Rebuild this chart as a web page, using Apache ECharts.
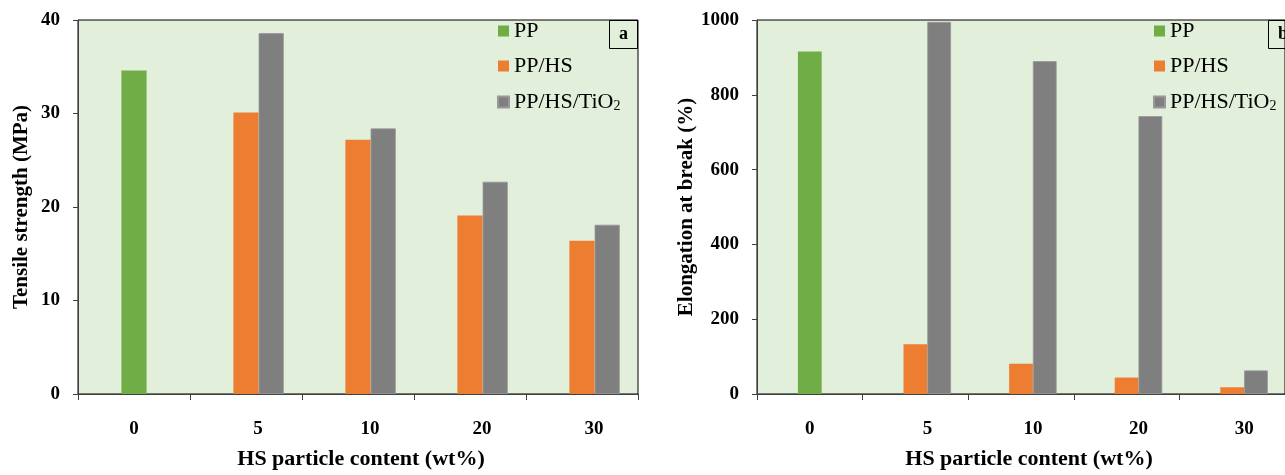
<!DOCTYPE html>
<html>
<head>
<meta charset="utf-8">
<script src="https://cdn.jsdelivr.net/npm/echarts@6/dist/echarts.min.js"></script>
<style>
html,body{margin:0;padding:0;background:#fff;}
#chart{width:1285px;height:475px;}
</style>
</head>
<body>
<div id="chart"></div>
<script>
// ---- data ----
const categories = ['0', '5', '10', '20', '30'];
const seriesNames = ['PP', 'PP/HS', 'PP/HS/TiO2'];
const tensilePP = [34.6, '-', '-', '-', '-'];
const tensileHS = ['-', 30.1, 27.2, 19.1, 16.4];
const tensileTiO2 = ['-', 38.6, 28.4, 22.7, 18.1];
const elongPP = [916, '-', '-', '-', '-'];
const elongHS = ['-', 133, 81, 44, 18];
const elongTiO2 = ['-', 995, 890, 743, 63];
const tensileTicks = { min: 0, max: 40, interval: 10 };
const elongTicks = { min: 0, max: 1000, interval: 200 };

// ---- styles ----
const FONT = 'Liberation Serif';
const GREEN = '#70AD47', ORANGE = '#ED7D31', GRAY = '#7F7F7F';
const AXIS_COLOR = '#404040';
const BAR_W = '22.5%';

function labelFont(size) {
  return { fontFamily: FONT, fontWeight: 'bold', fontSize: size, color: '#000' };
}

function xAxes(gridIndex, namePadLeft) {
  return [
    {
      gridIndex: gridIndex, type: 'category', data: categories,
      axisLine: { show: true, lineStyle: { color: AXIS_COLOR, width: 1 } },
      axisTick: { show: true, length: 6, lineStyle: { color: AXIS_COLOR } },
      axisLabel: {
        margin: 26,
        formatter: function (v, i) { return i === 0 ? '{c|' + v + '}' : '{s|' + v + '}'; },
        rich: {
          c: labelFont(19),
          s: Object.assign(labelFont(19), { padding: [0, 0, 0, 24] })
        }
      },
      name: 'HS particle content (wt%)', nameLocation: 'middle', nameGap: 54,
      nameTextStyle: Object.assign(labelFont(22), { padding: [0, 0, 0, namePadLeft] })
    },
    { gridIndex: gridIndex, type: 'category', data: categories, show: false }
  ];
}

function yAxis(gridIndex, ticks, name, nameGap) {
  return {
    gridIndex: gridIndex, type: 'value', min: ticks.min, max: ticks.max, interval: ticks.interval,
    axisLine: { show: true, lineStyle: { color: AXIS_COLOR, width: 1 } },
    axisTick: { show: true, length: 5, lineStyle: { color: AXIS_COLOR } },
    splitLine: { show: false },
    axisLabel: Object.assign(labelFont(19), { margin: 18, formatter: function (v) { return String(v); } }),
    name: name, nameLocation: 'middle', nameGap: nameGap, nameRotate: 90,
    nameTextStyle: labelFont(21)
  };
}

function barSeries(xi, yi, pp, hs, tio2) {
  return [
    // empty slot so PP/HS sits on the category centre and TiO2 to its right
    { type: 'bar', xAxisIndex: xi, yAxisIndex: yi, data: categories.map(function () { return '-'; }),
      barWidth: BAR_W, barGap: 0, silent: true },
    { type: 'bar', name: seriesNames[1], xAxisIndex: xi, yAxisIndex: yi, data: hs,
      barWidth: BAR_W, barGap: 0, itemStyle: { color: ORANGE } },
    { type: 'bar', name: seriesNames[2], xAxisIndex: xi, yAxisIndex: yi, data: tio2,
      barWidth: BAR_W, barGap: 0, itemStyle: { color: GRAY, borderColor: '#999', borderWidth: 0.8 } },
    { type: 'bar', name: seriesNames[0], xAxisIndex: xi + 1, yAxisIndex: yi, data: pp,
      barWidth: BAR_W, itemStyle: { color: GREEN } }
  ];
}

function legend(left) {
  return {
    left: left, top: 20, orient: 'vertical', icon: 'rect', padding: 0,
    itemWidth: 11, itemHeight: 11, itemGap: 13,
    data: seriesNames,
    formatter: function (n) { return n.replace('TiO2', 'TiO{sub|2}'); },
    textStyle: {
      fontFamily: FONT, fontSize: 22, color: '#000', lineHeight: 22,
      rich: { sub: { fontFamily: FONT, fontSize: 14, color: '#000', verticalAlign: 'bottom', lineHeight: 22, padding: [9, 0, 0, 0] } }
    }
  };
}

function panelTag(text, left) {
  return {
    text: text, left: left, top: 20, padding: [5, 10, 6, 10],
    borderColor: '#000', borderWidth: 1,
    textStyle: { fontFamily: FONT, fontWeight: 'bold', fontSize: 18, color: '#000' }
  };
}

const chart = echarts.init(document.getElementById('chart'));
chart.setOption({
  animation: false,
  backgroundColor: '#fff',
  title: [panelTag('a', 609), panelTag('b', 1268)],
  legend: [legend(497), legend(1153)],
  grid: [
    { left: 78, top: 20, width: 560, height: 382, show: true, backgroundColor: '#E2EFDA', borderColor: '#000', borderWidth: 1 },
    { left: 757, top: 20, width: 537, height: 382, show: true, backgroundColor: '#E2EFDA', borderColor: '#000', borderWidth: 1 }
  ],
  xAxis: xAxes(0, 6).concat(xAxes(1, 16)),
  yAxis: [
    yAxis(0, tensileTicks, 'Tensile strength (MPa)', 46),
    yAxis(1, elongTicks, 'Elongation at break (%)', 60)
  ],
  series: barSeries(0, 0, tensilePP, tensileHS, tensileTiO2)
    .concat(barSeries(2, 1, elongPP, elongHS, elongTiO2))
});
</script>
</body>
</html>
